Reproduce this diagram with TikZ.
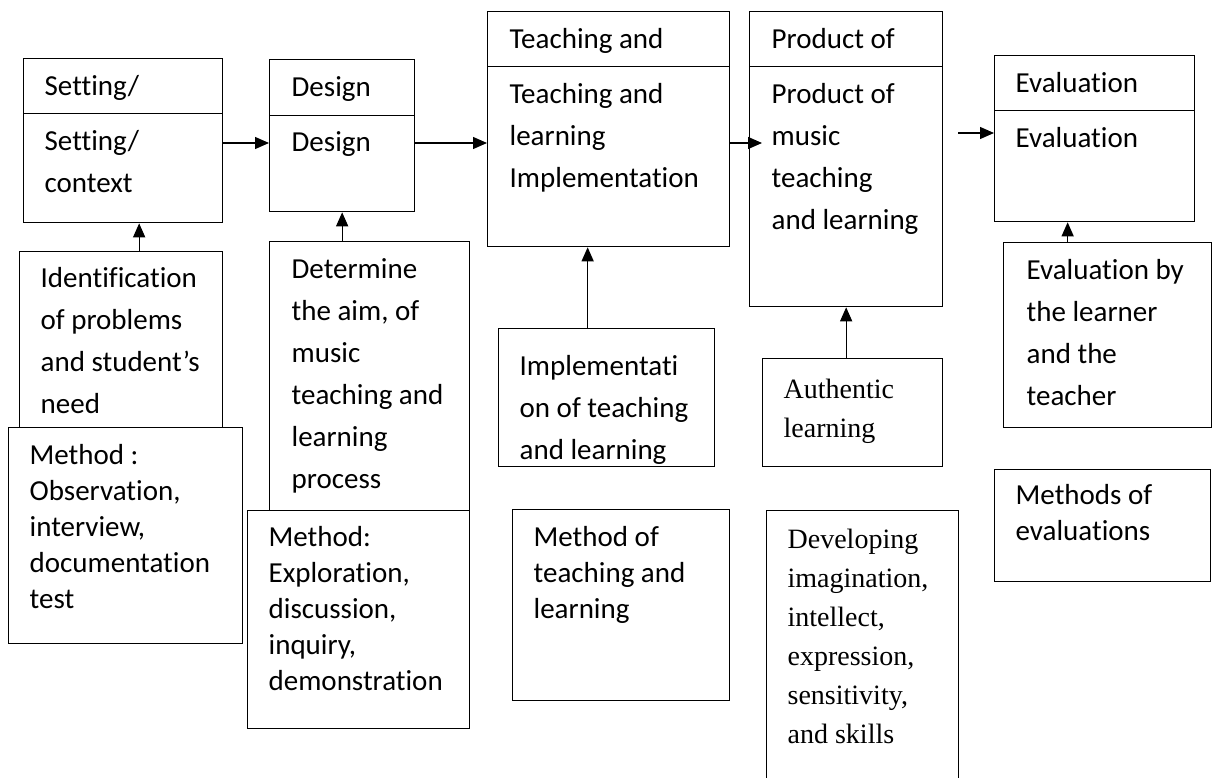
\documentclass[tikz,border=0pt]{standalone}
\usepackage{fontspec}
\setmainfont{Carlito}[Ligatures={NoCommon, NoRare, NoDiscretionary}]
\newfontfamily\timesfont{Liberation Serif}
\usetikzlibrary{arrows.meta}

\begin{document}
\begin{tikzpicture}[x=1pt, y=-1pt, line width=1.3pt,
    box/.style={draw, anchor=north west, inner sep=0pt, fill=white},
    txt/.style={anchor=north west, inner sep=0pt, align=left, font=\fontsize{29}{42}\selectfont},
    mtxt/.style={txt, font=\fontsize{29}{36}\selectfont},
    stxt/.style={txt, font=\timesfont\fontsize{28}{39}\selectfont},
    arr/.style={-{Triangle[length=14pt, width=12pt]}}]
    \useasboundingbox (0,0) rectangle (1213,778);

    \node[box, minimum width=199pt, minimum height=55pt] at (23,58) (seth) {};
    \node[box, minimum width=199pt, minimum height=109pt] at (23,113) (set) {};
    \node[box, minimum width=145pt, minimum height=56pt] at (269,59) (desh) {};
    \node[box, minimum width=145pt, minimum height=96pt] at (269,115) (des) {};
    \node[box, minimum width=242pt, minimum height=55pt] at (487,11) (teah) {};
    \node[box, minimum width=242pt, minimum height=180pt] at (487,66) (tea) {};
    \node[box, minimum width=193pt, minimum height=55pt] at (749,11) (proh) {};
    \node[box, minimum width=193pt, minimum height=240pt] at (749,66) (pro) {};
    \node[box, minimum width=200pt, minimum height=55pt] at (994,55) (evah) {};
    \node[box, minimum width=200pt, minimum height=111pt] at (994,110) (eva) {};

    \node[box, minimum width=203pt, minimum height=176pt] at (19,251) (ident) {};
    \node[box, minimum width=234pt, minimum height=216pt] at (8,427) (meth1) {};
    \node[box, minimum width=200pt, minimum height=269pt] at (269,241) (determ) {};
    \node[box, minimum width=222pt, minimum height=218pt] at (247,510) (meth2) {};
    \node[box, minimum width=216pt, minimum height=138pt] at (498,328) (implem) {};
    \node[box, minimum width=217pt, minimum height=191pt] at (512,509) (meth3) {};
    \node[box, minimum width=180pt, minimum height=108pt] at (762,358) (auth) {};
    \node[box, minimum width=192pt, minimum height=280pt] at (766,510) (devel) {};
    \node[box, minimum width=208pt, minimum height=185pt] at (1003,242) (evalby) {};
    \node[box, minimum width=216pt, minimum height=112pt] at (994,469) (meth5) {};

    \node[txt] at ([shift={(21pt,-17pt)}]seth.north west) (seth-t) {Setting/};
    \node[txt] at ([shift={(21pt,-17pt)}]set.north west) (set-t) {Setting/\\context};
    \node[txt] at ([shift={(22pt,-17pt)}]desh.north west) (desh-t) {Design};
    \node[txt] at ([shift={(22pt,-16pt)}]des.north west) (des-t) {Design};
    \node[txt] at ([shift={(22pt,-17pt)}]teah.north west) (teah-t) {Teaching and};
    \node[txt] at ([shift={(22pt,-17pt)}]tea.north west) (tea-t) {Teaching and\\learning\\Implementation};
    \node[txt] at ([shift={(22pt,-17pt)}]proh.north west) (proh-t) {Product of};
    \node[txt] at ([shift={(22pt,-17pt)}]pro.north west) (pro-t) {Product of\\music\\teaching\\and learning};
    \node[txt] at ([shift={(21pt,-17pt)}]evah.north west) (evah-t) {Evaluation};
    \node[txt] at ([shift={(21pt,-17pt)}]eva.north west) (eva-t) {Evaluation};

    \node[txt] at ([shift={(21pt,-16pt)}]ident.north west) (ident-t) {Identification\\of problems\\and student’s\\need};
    \node[mtxt] at ([shift={(21pt,-17pt)}]meth1.north west) (meth1-t) {Method :\\Observation,\\interview,\\documentation\\test};
    \node[txt] at ([shift={(22pt,-17pt)}]determ.north west) (determ-t) {Determine\\the aim, of\\music\\teaching and\\learning\\process};
    \node[mtxt] at ([shift={(21pt,-16pt)}]meth2.north west) (meth2-t) {Method:\\Exploration,\\discussion,\\inquiry,\\demonstration};
    \node[txt] at ([shift={(21pt,-27pt)}]implem.north west) (implem-t) {Implementati\\on of teaching\\and learning};
    \node[mtxt] at ([shift={(21pt,-17pt)}]meth3.north west) (meth3-t) {Method of\\teaching and\\learning};
    \node[stxt] at ([shift={(21pt,-20pt)}]auth.north west) (auth-t) {Authentic\\learning};
    \node[stxt] at ([shift={(21pt,-18pt)}]devel.north west) (devel-t) {Developing\\imagination,\\intellect,\\expression,\\sensitivity,\\and skills};
    \node[txt] at ([shift={(23pt,-17pt)}]evalby.north west) (evalby-t) {Evaluation by\\the learner\\and the\\teacher};
    \node[mtxt] at ([shift={(21pt,-15pt)}]meth5.north west) (meth5-t) {Methods of\\evaluations};

    \coordinate (evin) at (958,133);
    \draw[arr] ([yshift=-30pt]set.north east) -- ([yshift=-28pt]des.north west);
    \draw[arr] ([yshift=-28pt]des.north east) -- ([yshift=-77pt]tea.north west);
    \draw[arr] ([yshift=-77pt]tea.north east) -- ([shift={(13pt,-77pt)}]pro.north west);
    \draw[arr] (evin) -- (evin -| eva.west);
    \draw[arr] ([xshift=18pt]ident.north) -- ([xshift=18pt]ident.north |- set.south);
    \draw[arr] (determ.north -| des.south) -- (des.south);
    \draw[arr] ([xshift=-19pt]implem.north) -- ([xshift=-19pt]implem.north |- tea.south);
    \draw[arr] (auth.north -| pro.south) -- (pro.south);
    \draw[arr] ([xshift=-40pt]evalby.north) -- ([xshift=-40pt]evalby.north |- eva.south);
\end{tikzpicture}
\end{document}
